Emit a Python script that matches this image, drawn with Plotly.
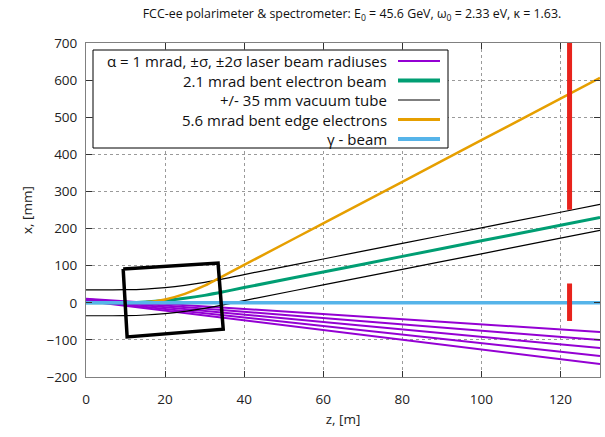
import plotly.graph_objects as go

# ---- data -------------------------------------------------------------
# longitudinal positions (m) for the bent trajectories
z_path = [0, 5, 10, 15, 20, 25, 30, 35, 40, 60, 80, 100, 120, 130]

# 2.1 mrad bent electron beam, x in mm
electron_beam = [0, 0, 0.2, 2, 6, 12, 20, 30, 41, 83, 125, 167, 209, 230]
# +/- 35 mm vacuum tube walls
tube_upper = [35, 35, 35.2, 37, 41, 47, 55, 65, 76, 118, 160, 202, 244, 265]
tube_lower = [-35, -35, -34.8, -33, -29, -23, -15, -5, 6, 48, 90, 132, 174, 195]
# 5.6 mrad bent edge electrons
edge_electrons = [0, 0, 0, 1.3, 9, 24, 46, 74, 102, 214, 326, 438, 550, 606]

# laser beam (alpha = 1 mrad): centre, +/- sigma, +/- 2 sigma
z_laser = [0, 130]
laser_p2s = [11, -79]
laser_p1s = [9.5, -100.5]
laser_c = [8, -122]
laser_m1s = [6.5, -143.5]
laser_m2s = [5, -165]

# gamma beam
z_gamma = [0, 130]
x_gamma = [0, 0]

# magnet outline (z in m, x in mm), closed polygon
box_z = [9.4, 33.4, 34.7, 10.4, 9.4]
box_x = [91, 107, -71, -92, 91]

# detector markers at z = 122.3 m
det_z = [122.3, 122.3]
det_upper_x = [251, 720]
det_lower_x = [-49, 52]

# legend labels
legend_labels = [
    "α = 1 mrad, ±σ, ±2σ laser beam radiuses",
    "2.1 mrad bent electron beam",
    "+/- 35 mm vacuum tube",
    "5.6 mrad bent edge electrons",
    "γ - beam",
]

# ---- styles -------------------------------------------------------------
PURPLE = "#9400D3"
GREEN = "#009E73"
ORANGE = "#E69F00"
BLUE = "#56B4E9"
RED = "#E8231C"
FONT = "Open Sans"

fig = go.Figure()

for xs in (laser_p2s, laser_p1s, laser_c, laser_m1s, laser_m2s):
    fig.add_trace(go.Scatter(x=z_laser, y=xs, mode="lines",
                             line=dict(color=PURPLE, width=2)))

for xs in (tube_upper, tube_lower):
    fig.add_trace(go.Scatter(x=z_path, y=xs, mode="lines",
                             line=dict(color="black", width=1.2, shape="spline")))

fig.add_trace(go.Scatter(x=z_path, y=electron_beam, mode="lines",
                         line=dict(color=GREEN, width=3, shape="spline")))
fig.add_trace(go.Scatter(x=z_path, y=edge_electrons, mode="lines",
                         line=dict(color=ORANGE, width=2.5, shape="spline")))
fig.add_trace(go.Scatter(x=z_gamma, y=x_gamma, mode="lines",
                         line=dict(color=BLUE, width=3.5)))
fig.add_trace(go.Scatter(x=box_z, y=box_x, mode="lines",
                         line=dict(color="black", width=3.5)))
for xs in (det_upper_x, det_lower_x):
    fig.add_trace(go.Scatter(x=det_z, y=xs, mode="lines",
                             line=dict(color=RED, width=5)))

# ---- legend box (text right-aligned, samples on the right) --------------
legend_colors = [PURPLE, GREEN, "black", ORANGE, BLUE]
legend_widths = [2, 4, 1.2, 3, 4]
W, H = 605, 437
L, R, T, B = 86, 5, 43, 60
pw, ph = W - L - R, H - T - B


def px_x(px):
    return (px - L) / pw


def px_y(py):
    return 1 - (py - T) / ph


shapes = [dict(type="rect", xref="paper", yref="paper",
               x0=px_x(93), x1=px_x(448), y0=px_y(148), y1=px_y(50),
               line=dict(color="black", width=1), fillcolor="white", layer="above")]
annotations = []
for i, (lab, col, lw) in enumerate(zip(legend_labels, legend_colors, legend_widths)):
    yy = 61 + i * 19.5
    shapes.append(dict(type="line", xref="paper", yref="paper",
                       x0=px_x(398), x1=px_x(440), y0=px_y(yy), y1=px_y(yy),
                       line=dict(color=col, width=lw), layer="above"))
    annotations.append(dict(xref="paper", yref="paper", x=px_x(389), y=px_y(yy),
                            text=lab, showarrow=False, xanchor="right", yanchor="middle",
                            font=dict(family=FONT, size=15, color="#111")))

fig.update_layout(
    width=W, height=H,
    margin=dict(l=L, r=R, t=T, b=B),
    paper_bgcolor="white", plot_bgcolor="white",
    showlegend=False,
    shapes=shapes, annotations=annotations,
    font=dict(family=FONT, size=13, color="#222"),
    title=dict(text="FCC-ee polarimeter & spectrometer: E<sub>0</sub> = 45.6 GeV, "
                    "ω<sub>0</sub> = 2.33 eV, κ = 1.63.",
               x=352 / W, xanchor="center", y=1 - 14 / H, yanchor="middle",
               font=dict(family=FONT, size=12.4, color="#111")),
)

axis_common = dict(
    showgrid=True, gridcolor="#9a9a9a", griddash="dot", gridwidth=1,
    showline=True, linecolor="#808080", linewidth=1, mirror="ticks",
    ticks="inside", ticklen=6, tickcolor="#333", zeroline=False,
    tickfont=dict(family=FONT, size=13.5, color="#222"),
)
fig.update_xaxes(range=[0, 130], dtick=20, tick0=0, ticklabelstandoff=10,
                 title=dict(text="z, [m]", font=dict(family=FONT, size=13.5), standoff=7),
                 **axis_common)
fig.update_yaxes(range=[-200, 700], dtick=100, tick0=0, ticklabelstandoff=5,
                 title=dict(text="x, [mm]", font=dict(family=FONT, size=13.5), standoff=10),
                 **axis_common)

fig.write_html("out.html")
